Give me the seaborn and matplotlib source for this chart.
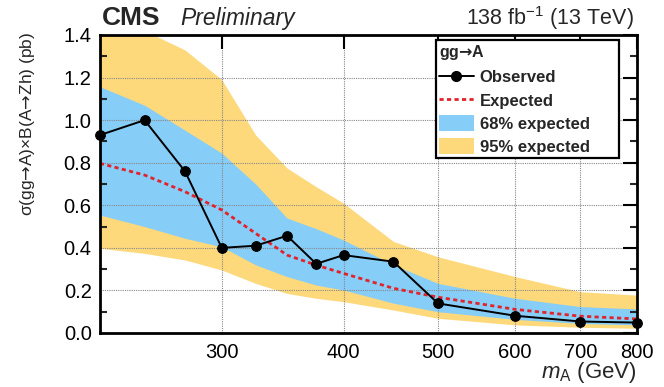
import numpy as np
import pandas as pd
import matplotlib
matplotlib.use("Agg")
import matplotlib.pyplot as plt
from matplotlib.ticker import FixedLocator, NullLocator, MultipleLocator, FixedFormatter
from matplotlib.patches import Patch, Rectangle
from matplotlib.lines import Line2D
import seaborn as sns

# Mass points (GeV)
mass = [225, 250, 275, 300, 325, 350, 375, 400, 450, 500, 600, 700, 800]
# Observed and median expected upper limits (pb)
observed = [0.93, 1.00, 0.76, 0.40, 0.41, 0.457, 0.325, 0.366, 0.335, 0.139, 0.081, 0.054, 0.049]
expected = [0.797, 0.742, 0.664, 0.578, 0.468, 0.366, 0.319, 0.28, 0.21, 0.168, 0.111, 0.079, 0.066]
# Expected bands
band68_lo = [0.554, 0.50, 0.445, 0.405, 0.32, 0.265, 0.225, 0.202, 0.14, 0.10, 0.064, 0.045, 0.038]
band68_hi = [1.157, 1.07, 0.953, 0.845, 0.70, 0.54, 0.49, 0.437, 0.32, 0.233, 0.163, 0.124, 0.113]
band95_lo = [0.398, 0.374, 0.343, 0.296, 0.233, 0.186, 0.163, 0.147, 0.108, 0.069, 0.038, 0.027, 0.022]
band95_hi = [1.50, 1.42, 1.33, 1.19, 0.93, 0.775, 0.687, 0.61, 0.43, 0.358, 0.265, 0.194, 0.178]

xticks = [300, 400, 500, 600, 700, 800]
xticklabels = ["300", "400", "500", "600", "700", "800"]

sns.set_style("white")
plt.rcParams["font.family"] = ["Liberation Sans", "DejaVu Sans"]
plt.rcParams["mathtext.fontset"] = "custom"
plt.rcParams["mathtext.rm"] = "Liberation Sans"
plt.rcParams["mathtext.it"] = "Liberation Sans:italic"
plt.rcParams["mathtext.bf"] = "DejaVu Sans:bold"
plt.rcParams["mathtext.sf"] = "DejaVu Sans"

# arrow glyph taken from DejaVu, without relation spacing
ARROW = r"$\mathsf{→}$"
ARROW_BF = r"$\mathbf{→}$"

df = pd.DataFrame({"mass": mass, "observed": observed, "expected": expected})

fig = plt.figure(figsize=(6.64, 3.87), dpi=100)
ax = fig.add_axes([100 / 664, 1 - 333 / 387, 537 / 664, 298 / 387])

yellow = "#FDD97C"
blue = "#86CDF8"
red = "#E2232B"

ax.fill_between(mass, band95_lo, band95_hi, color=yellow, lw=0, zorder=1)
ax.fill_between(mass, band68_lo, band68_hi, color=blue, lw=0, zorder=1.5)

sns.lineplot(data=df, x="mass", y="expected", ax=ax, color=red, lw=2.0,
             linestyle=(0, (1.5, 1.2)), zorder=4)
sns.lineplot(data=df, x="mass", y="observed", ax=ax, color="black", lw=1.4,
             marker="o", markersize=7, markeredgecolor="black", zorder=7,
             clip_on=False)

ax.set_xscale("log")
ax.set_xlim(225, 800)
ax.set_ylim(0, 1.4)

ax.xaxis.set_major_locator(FixedLocator(xticks))
ax.xaxis.set_major_formatter(FixedFormatter(xticklabels))
ax.xaxis.set_minor_locator(NullLocator())
ax.yaxis.set_major_locator(MultipleLocator(0.2))
ax.yaxis.set_minor_locator(MultipleLocator(0.1))
ax.yaxis.set_major_formatter(matplotlib.ticker.FormatStrFormatter("%.1f"))

ax.tick_params(axis="both", which="major", direction="in", length=10, width=1.5,
               top=True, right=True, labelsize=14.5, pad=6, colors="black")
ax.tick_params(axis="y", which="minor", direction="in", length=5, width=1.5,
               left=True, right=True)
ax.tick_params(axis="x", which="major", pad=7)

ax.grid(True, which="major", axis="both", color="#888888", linestyle=(0, (1, 1)), lw=0.8)
ax.set_axisbelow(False)
for gl in ax.get_xgridlines() + ax.get_ygridlines():
    gl.set_zorder(2)

for sp in ax.spines.values():
    sp.set_linewidth(2)
    sp.set_color("black")
    sp.set_zorder(6)

ax.set_xlabel(r"$m_{\rm A}$ (GeV)", fontsize=16, loc="right", labelpad=-1)
ax.set_ylabel("σ(gg" + ARROW + "A)×B(A" + ARROW + "Zh) (pb)", fontsize=12.5, loc="top")
ax.yaxis.set_label_coords(-0.117, 1.01)

# legend box
lx0, lx1 = 0.6257, 0.9665
ly0, ly1 = 0.587, 0.983
ax.add_patch(Rectangle((lx0, ly0), lx1 - lx0, ly1 - ly0, transform=ax.transAxes,
                       facecolor="white", edgecolor="black", lw=1.6, zorder=9,
                       clip_on=False))

handles = [
    Line2D([], [], color="black", lw=1.4, marker="o", markersize=7),
    Line2D([], [], color=red, lw=2.0, linestyle=(0, (1.5, 1.2))),
    Patch(facecolor=blue, edgecolor="none"),
    Patch(facecolor=yellow, edgecolor="none"),
]
labels = ["Observed", "Expected", "68% expected", "95% expected"]
leg = ax.legend(handles, labels, title="gg" + ARROW_BF + "A", loc="upper left",
                bbox_to_anchor=(lx0, ly1), frameon=False,
                prop={"weight": "bold", "size": 12}, handlelength=2.05,
                handleheight=1.05, labelspacing=0.4, borderpad=0.2,
                handletextpad=0.38, alignment="left", borderaxespad=0)
leg.get_title().set_fontweight("bold")
leg.get_title().set_fontsize(11.5)
leg.set_zorder(10)

fig.text(102 / 664, 1 - 25 / 387, "CMS", fontsize=19, fontweight="bold",
         ha="left", va="baseline")
fig.text(180 / 664, 1 - 25 / 387, "Preliminary", fontsize=16.5, style="italic",
         ha="left", va="baseline")
fig.text(634 / 664, 1 - 25 / 387, r"138 fb$^{-1}$ (13 TeV)", fontsize=15.5,
         ha="right", va="baseline")

fig.savefig("out.png", dpi=100)
